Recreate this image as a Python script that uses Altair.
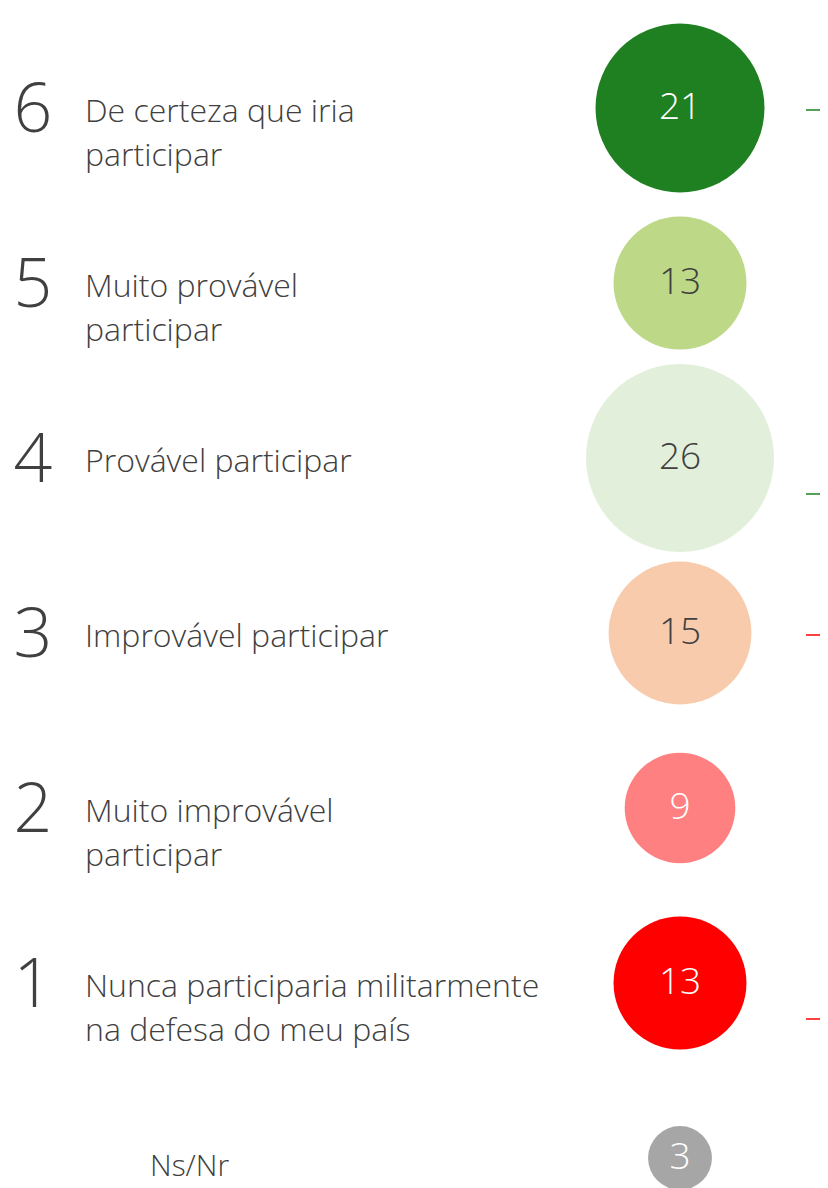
import altair as alt
import pandas as pd

# ---- data ----
rows = ["6", "5", "4", "3", "2", "1", "Ns/Nr"]
scale_numbers = ["6", "5", "4", "3", "2", "1", ""]
labels = [
    "De certeza que iria\nparticipar",
    "Muito provável\nparticipar",
    "Provável participar",
    "Improvável participar",
    "Muito improvável\nparticipar",
    "Nunca participaria militarmente\nna defesa do meu país",
    "Ns/Nr",
]
values = [21, 13, 26, 15, 9, 13, 3]
bubble_colors = ["#1E8020", "#BDD886", "#E2EFDA", "#F8CBAD", "#FF8080", "#FF0000", "#A6A6A6"]
value_text_colors = ["#FFFFFF", "#404040", "#404040", "#404040", "#FFFFFF", "#FFFFFF", "#FFFFFF"]

brace_rows = ["6", "4", "3", "1"]
brace_colors = ["#1E8020", "#1E8020", "#FF0000", "#FF0000"]
brace_end = ["top", "bottom", "top", "bottom"]

df = pd.DataFrame({
    "row": rows,
    "num": scale_numbers,
    "label": labels,
    "value": values,
    "color": bubble_colors,
    "tcolor": value_text_colors,
    "is_nsnr": [r == "Ns/Nr" for r in rows],
})
braces = pd.DataFrame({"row": brace_rows, "color": brace_colors, "end": brace_end})

FONT = "Open Sans"
TXT = "#404040"

y_enc = alt.Y("row:N", sort=rows,
              scale=alt.Scale(type="point", domain=rows, range=[100, 1150], padding=0),
              axis=None)

base = alt.Chart(df)

# Vega circle radius = sqrt(size)/2 -> largest bubble (26) ~ radius 94
bubbles = base.mark_circle(opacity=1).encode(
    x=alt.value(672),
    y=y_enc,
    size=alt.Size("value:Q", scale=alt.Scale(type="linear", domain=[0, 26],
                                             range=[0, (2 * 94) ** 2]), legend=None),
    color=alt.Color("color:N", scale=None),
)

bubble_text = base.mark_text(font=FONT, fontSize=37, fontWeight=300,
                             align="center", baseline="middle").encode(
    x=alt.value(672),
    y=y_enc,
    text="value:Q",
    color=alt.Color("tcolor:N", scale=None),
)

big_nums = base.mark_text(font=FONT, fontSize=68, fontWeight=300, color=TXT,
                          align="center", baseline="middle", dy=4).encode(
    x=alt.value(25),
    y=y_enc,
    text="num:N",
)

label_text = base.transform_filter("!datum.is_nsnr").mark_text(
    font=FONT, fontSize=32, fontWeight=300, color=TXT, align="left",
    baseline="middle", lineBreak="\n", lineHeight=44, dy=4).encode(
    x=alt.value(77),
    y=y_enc,
    text="label:N",
)

nsnr_text = base.transform_filter("datum.is_nsnr").mark_text(
    font=FONT, fontSize=30, fontWeight=300, color=TXT, align="left",
    baseline="middle", dy=9).encode(
    x=alt.value(142),
    y=y_enc,
    text="label:N",
)

brace_top = alt.Chart(braces).transform_filter("datum.end == 'top'").mark_rule(
    strokeWidth=1.5, yOffset=2).encode(
    x=alt.value(798), x2=alt.value(820), y=y_enc,
    color=alt.Color("color:N", scale=None),
)
brace_bottom = alt.Chart(braces).transform_filter("datum.end == 'bottom'").mark_rule(
    strokeWidth=1.5, yOffset=36).encode(
    x=alt.value(798), x2=alt.value(820), y=y_enc,
    color=alt.Color("color:N", scale=None),
)

chart = alt.layer(
    bubbles, bubble_text, big_nums, label_text, nsnr_text, brace_top, brace_bottom
).properties(
    width=812, height=1180, autosize=alt.AutoSizeParams(type="none"), padding=0,
    background="#FFFFFF",
).configure_view(stroke=None)

chart.save("out.html", embed_options={"renderer": "svg", "actions": False})
